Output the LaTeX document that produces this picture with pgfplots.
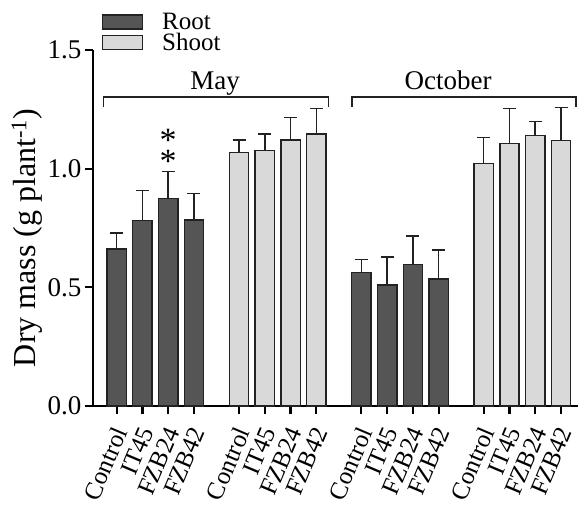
\documentclass[border=0pt]{standalone}
\usepackage{pgfplots}
\pgfplotsset{compat=1.18}
\usepackage{fontspec}
\setmainfont{Liberation Serif}
\definecolor{rootgray}{HTML}{555555}
\definecolor{shootgray}{HTML}{D9D9D9}
\definecolor{edge}{HTML}{222222}
\newcommand{\rl}[1]{\rotatebox{67}{#1}}

\begin{document}
\begin{tikzpicture}
\path[use as bounding box] (-93pt,-99pt) rectangle (485pt,406pt);
\begin{axis}[
    scale only axis,
    width=485pt, height=356pt,
    xmin=-0.92, xmax=17.91,
    ymin=0, ymax=1.5,
    axis lines*=left,
    axis line style={line width=2.2pt, black},
    clip=false,
    ytick={0,0.5,1.0,1.5},
    yticklabel style={/pgf/number format/fixed, /pgf/number format/fixed zerofill, /pgf/number format/precision=1,
        font=\fontsize{27}{30}\selectfont},
    /pgf/number format/assume math mode=true,
    tick style={line width=2.2pt, black},
    tick align=outside,
    major tick length=8pt,
    xtick={0,1,2,3,4.75,5.75,6.75,7.75,9.5,10.5,11.5,12.5,14.25,15.25,16.25,17.25},
    xticklabels={\rl{Control},\rl{IT45},\rl{FZB24},\rl{FZB42},\rl{Control},\rl{IT45},\rl{FZB24},\rl{FZB42},
                 \rl{Control},\rl{IT45},\rl{FZB24},\rl{FZB42},\rl{Control},\rl{IT45},\rl{FZB24},\rl{FZB42}},
    xticklabel style={font=\fontsize{25}{28}\selectfont, anchor=north east, inner sep=0pt, xshift=12pt, yshift=-11pt},
    ylabel={Dry mass (g plant\textsuperscript{-1})},
    ylabel style={font=\fontsize{32}{36}\selectfont, at={(axis description cs:-0.136,0.472)}, anchor=center, rotate=0},
    legend style={at={(axis description cs:0.018,1.107)}, anchor=north west, draw=none, fill=none,
        font=\fontsize{25}{26}\selectfont, inner sep=0pt, row sep=0pt,
        nodes={inner sep=1pt}},
    legend cell align=left,
    error bars/y dir=plus,
    error bars/y explicit,
    error bars/error bar style={line width=1.5pt, edge},
    error bars/error mark options={rotate=90, line width=1.5pt, mark size=6.5pt, edge},
]
\addplot[ybar, bar width=0.75, bar shift=0pt, fill=rootgray, draw=edge, line width=1.4pt,
    legend image code/.code={\draw[fill=rootgray, draw=edge, line width=1.2pt] (0pt,-7pt) rectangle (40pt,7pt); \path (58pt,0pt);}]
    coordinates {
    (0,0.662) +- (0,0.066)
    (1,0.781) +- (0,0.128)
    (2,0.875) +- (0,0.112)
    (3,0.784) +- (0,0.111)
    (9.5,0.563) +- (0,0.055)
    (10.5,0.509) +- (0,0.118)
    (11.5,0.597) +- (0,0.119)
    (12.5,0.535) +- (0,0.122)
    };
\addlegendentry{Root}
\addplot[ybar, bar width=0.75, bar shift=0pt, fill=shootgray, draw=edge, line width=1.4pt,
    legend image code/.code={\draw[fill=shootgray, draw=edge, line width=1.2pt] (0pt,-7pt) rectangle (40pt,7pt); \path (58pt,0pt);}]
    coordinates {
    (4.75,1.067) +- (0,0.054)
    (5.75,1.076) +- (0,0.069)
    (6.75,1.121) +- (0,0.094)
    (7.75,1.146) +- (0,0.108)
    (14.25,1.023) +- (0,0.109)
    (15.25,1.105) +- (0,0.149)
    (16.25,1.139) +- (0,0.059)
    (17.25,1.118) +- (0,0.139)
    };
\addlegendentry{Shoot}
% group brackets
\draw[line width=1.5pt, edge] (axis cs:-0.52,1.26) -- (axis cs:-0.52,1.302) -- (axis cs:8.23,1.302) -- (axis cs:8.23,1.26);
\draw[line width=1.5pt, edge] (axis cs:9.13,1.26) -- (axis cs:9.13,1.302) -- (axis cs:17.84,1.302) -- (axis cs:17.84,1.26);
\node[anchor=base, font=\fontsize{27}{30}\selectfont, inner sep=0pt] at (axis cs:3.82,1.332) {May};
\node[anchor=base, font=\fontsize{27}{30}\selectfont, inner sep=0pt] at (axis cs:12.87,1.332) {October};
% significance
\node[anchor=base, font=\fontsize{34}{36}\selectfont, inner sep=0pt] at (axis cs:2,1.074) {*};
\node[anchor=base, font=\fontsize{34}{36}\selectfont, inner sep=0pt] at (axis cs:2,0.982) {*};
\end{axis}
\end{tikzpicture}
\end{document}
